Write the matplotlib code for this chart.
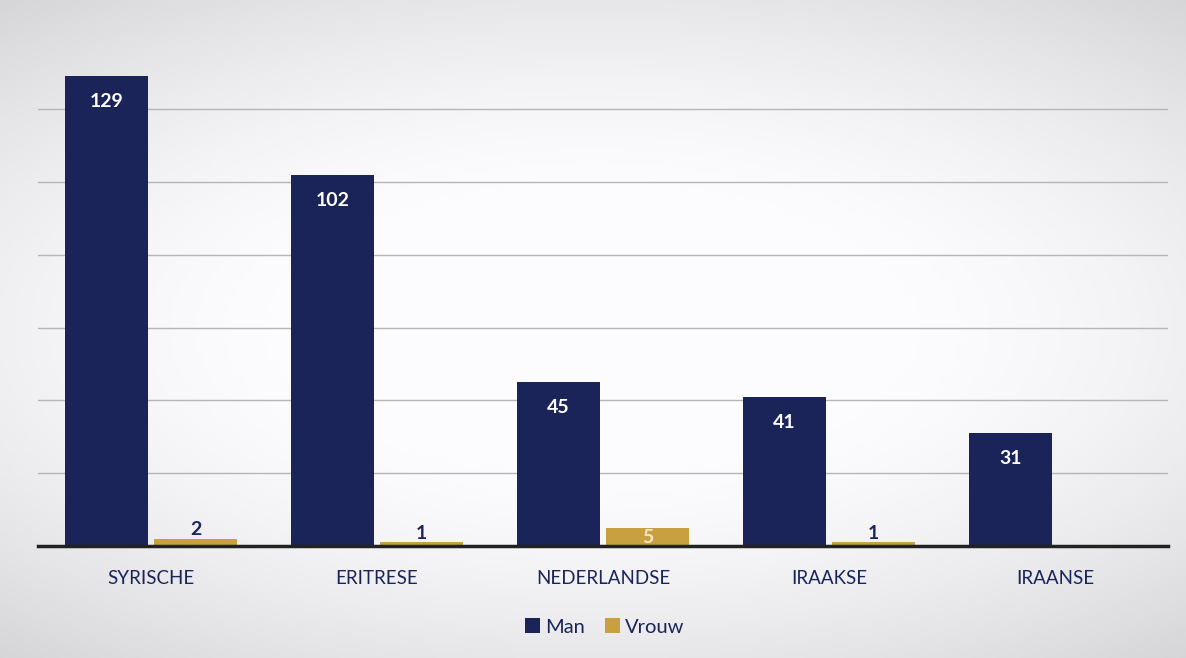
import matplotlib.pyplot as plt
import numpy as np

categories = ['SYRISCHE', 'ERITRESE', 'NEDERLANDSE', 'IRAAKSE', 'IRAANSE']
man = [129, 102, 45, 41, 31]
vrouw = [2, 1, 5, 1, 0]

navy = '#1a2459'
gold = '#c9a040'
plt.rcParams['font.family'] = ['Lato', 'DejaVu Sans']

fig = plt.figure(figsize=(11.86, 6.58), dpi=100)

# scanned-page look: light gray vignette behind everything
bg = fig.add_axes([0, 0, 1, 1], zorder=-1)
gx, gy = np.meshgrid(np.linspace(-1, 1, 300), np.linspace(-1, 1, 200))
r = np.sqrt((gx * 0.9) ** 2 + (gy * 1.1) ** 2)
shade = 1 - 0.16 * np.clip(r - 0.45, 0, None) ** 1.5
bg.imshow(np.dstack([shade * 0.99, shade * 0.99, shade]).clip(0, 1),
          aspect='auto', extent=[0, 1, 0, 1])
bg.axis('off')

ax = fig.add_axes([0.032, 0.170, 0.953, 0.775])
ax.patch.set_alpha(0)
x = np.arange(len(categories))
w = 0.37
b1 = ax.bar(x - 0.197, man, w, color=navy, zorder=3)
b2 = ax.bar(x + 0.197, vrouw, w, color=gold, zorder=3)

for rect, v in zip(b1, man):
    ax.text(rect.get_x() + rect.get_width() / 2, v - 7, str(v), ha='center', va='center',
            color='white', fontsize=14, fontweight='bold', zorder=4)
for rect, v in zip(b2, vrouw):
    if v == 0:
        continue
    cx = rect.get_x() + rect.get_width() / 2
    if v >= 4:
        ax.text(cx, v / 2, str(v), ha='center', va='center', color='#f3e6c0',
                fontsize=14, fontweight='bold', zorder=4)
    else:
        ax.text(cx, v + 0.1, str(v), ha='center', va='bottom', color=navy,
                fontsize=14, fontweight='bold', zorder=4)

ax.set_xlim(-0.5, 4.5)
ax.set_ylim(0, 140)
ax.set_yticks([20, 40, 60, 80, 100, 120])
ax.yaxis.grid(True, color='#b5b5b5', linewidth=1, zorder=0)
ax.tick_params(axis='y', left=False, labelleft=False)
ax.set_xticks(x)
ax.set_xticklabels(categories, fontsize=13.5, color=navy)
ax.tick_params(axis='x', length=0, pad=17)
for s in ['top', 'right', 'left']:
    ax.spines[s].set_visible(False)
ax.spines['bottom'].set_color('#222222')
ax.spines['bottom'].set_linewidth(2.5)
ax.spines['bottom'].set_zorder(5)

fig.legend([b1, b2], ['Man', 'Vrouw'], loc='center', bbox_to_anchor=(0.51, 0.047),
           ncol=2, frameon=False, fontsize=14.5, handlelength=0.75, handleheight=0.75,
           handletextpad=0.25, columnspacing=1.0, labelcolor=navy)

fig.savefig('out.png', dpi=100)
